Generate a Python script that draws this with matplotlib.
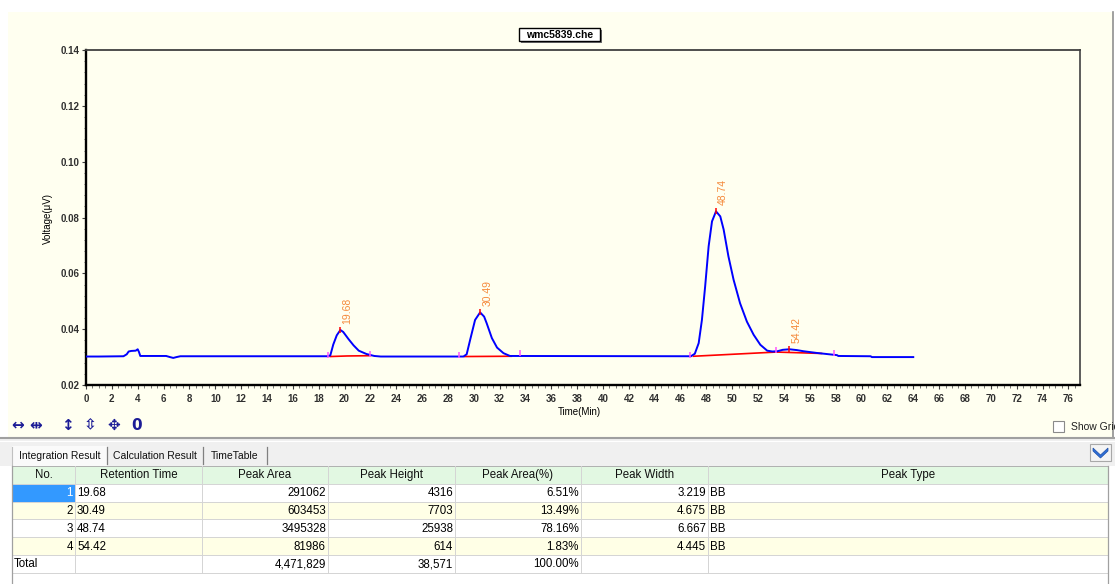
import matplotlib
matplotlib.use("Agg")
import matplotlib.pyplot as plt
from matplotlib.patches import Rectangle, Polygon
from matplotlib.ticker import MultipleLocator, FixedLocator, FixedFormatter

plt.rcParams['font.family'] = ['Liberation Sans', 'DejaVu Sans']

# ---------------- data ----------------
time_min = [0.0, 1.0, 2.9, 3.15, 3.3, 3.5, 3.85, 4.0, 4.1, 4.2, 6.2, 6.5, 6.75, 7.0, 7.3,
            18.7, 18.9, 19.13, 19.4, 19.68, 19.9, 20.3, 20.7, 21.1, 21.7, 22.3, 22.8,
            29.2, 29.45, 29.72, 30.1, 30.49, 30.8, 31.0, 31.4, 31.8, 32.3, 32.8,
            46.8, 47.1, 47.4, 47.65, 47.9, 48.17, 48.43, 48.74, 49.07, 49.33, 49.7,
            50.1, 50.6, 51.13, 51.65, 52.17, 52.7, 53.1, 53.5, 53.9, 54.42, 55.0,
            55.5, 56.5, 57.3, 58.1, 58.2, 60.7, 60.8, 64.0]
voltage = [0.0302, 0.0302, 0.0303, 0.0310, 0.0320, 0.0322, 0.0323, 0.0328, 0.0318, 0.0304,
           0.0304, 0.0300, 0.0297, 0.0300, 0.0303,
           0.0303, 0.0306, 0.0345, 0.0378, 0.0397, 0.0390, 0.0365, 0.0342, 0.0323, 0.0311,
           0.0304, 0.0302,
           0.0302, 0.0310, 0.0362, 0.0433, 0.0460, 0.0445, 0.0421, 0.0368, 0.0334, 0.0314,
           0.0304,
           0.0303, 0.0312, 0.0350, 0.0433, 0.0553, 0.0697, 0.0786, 0.0822, 0.0804, 0.0757,
           0.0661, 0.0577, 0.0493, 0.0427, 0.0380, 0.0344, 0.0323, 0.0320, 0.0321, 0.0326,
           0.0328, 0.0325, 0.0321, 0.0315, 0.0311, 0.0307, 0.0304, 0.0303, 0.0300, 0.0300]

peak_rt = [19.68, 30.49, 48.74, 54.42]
peak_apex = [0.0397, 0.0460, 0.0822, 0.0328]
peak_labels = ["19.68", "30.49", "48.74", "54.42"]

baseline_t = [[18.9, 20.2, 22.0], [29.3, 32.9], [47.0, 53.4], [53.4, 56.9]]
baseline_v = [[0.0302, 0.0304, 0.0305], [0.0302, 0.0303], [0.0303, 0.0318], [0.0318, 0.0313]]

event_t = [18.75, 21.98, 28.87, 33.54, 46.7, 53.4, 57.85]
event_v = [0.0309, 0.0312, 0.0308, 0.0314, 0.0306, 0.0324, 0.0314]

x_ticks = list(range(0, 77, 2))
y_ticks = [0.02, 0.04, 0.06, 0.08, 0.10, 0.12, 0.14]
y_tick_labels = ["0.02", "0.04", "0.06", "0.08", "0.10", "0.12", "0.14"]

# ---------------- table data ----------------
col_headers = ["No.", "Retention Time", "Peak Area", "Peak Height", "Peak Area(%)", "Peak Width", "Peak Type"]
row_no = ["1", "2", "3", "4"]
row_rt = ["19.68", "30.49", "48.74", "54.42"]
row_area = ["291062", "603453", "3495328", "81986"]
row_height = ["4316", "7703", "25938", "614"]
row_pct = ["6.51%", "13.49%", "78.16%", "1.83%"]
row_width = ["3.219", "4.675", "6.667", "4.445"]
row_type = ["BB", "BB", "BB", "BB"]
total_row = ["Total", "", "4,471,829", "38,571", "100.00%", "", ""]
tab_names = ["Integration Result", "Calculation Result", "TimeTable"]

W, H = 1115, 584
fig = plt.figure(figsize=(W / 100, H / 100), dpi=100, facecolor='white')

# ---------------- background / decorations in pixel coordinates ----------------
bg = fig.add_axes([0, 0, 1, 1], zorder=0)
bg.set_xlim(0, W)
bg.set_ylim(H, 0)
bg.axis('off')

ivory = '#FFFFF0'
bg.add_patch(Rectangle((8, 12), 1105, 425, facecolor=ivory, edgecolor='none'))
bg.plot([1113, 1113], [12, 437], color='#909090', lw=1.2)
bg.add_patch(Rectangle((0, 437), W, 29, facecolor='#F0F0F0', edgecolor='none'))
bg.plot([0, W], [437.5, 437.5], color='#A0A0A0', lw=1.5)
bg.plot([0, W], [441, 441], color='#FFFFFF', lw=0.8)

# title box
bg.add_patch(Rectangle((521, 30), 81, 13, facecolor='#707070', edgecolor='none'))
bg.add_patch(Rectangle((519, 28), 81, 13, facecolor='white', edgecolor='black', lw=1))
bg.text(559.5, 34.8, "wmc5839.che", ha='center', va='center', fontsize=7.5, fontweight='bold')

# axis labels
bg.text(48, 218, "Voltage(μV)", rotation=90, ha='center', va='center', fontsize=7)
bg.text(579, 412, "Time(Min)", ha='center', va='center', fontsize=7)

# toolbar glyphs
navy = '#1C1C96'
for gx, g in zip([18, 36, 67, 90, 114, 137], ['↔', '⇹', '↕', '⇳', '✥', '0']):
    bg.text(gx, 425, g, ha='center', va='center', fontsize=11, fontweight='bold',
            color=navy, family=['DejaVu Sans'])

# show grid checkbox (clipped at the right edge as in the original window)
bg.add_patch(Rectangle((1053, 421), 11, 11, facecolor='white', edgecolor='#8A8A8A', lw=0.8))
bg.text(1071, 426.5, "Show Grid", ha='left', va='center', fontsize=7.5, color='#202020')

# tabs
tab_x = [12, 107, 203, 267]
bg.add_patch(Rectangle((12, 446), 95, 20, facecolor='#FAFAFA', edgecolor='none'))
for i, name in enumerate(tab_names):
    bg.text((tab_x[i] + tab_x[i + 1]) / 2, 456, name, ha='center', va='center', fontsize=7.5,
            color='#101010')
    bg.plot([tab_x[i + 1], tab_x[i + 1]], [447, 464], color='#808080', lw=0.9)
bg.plot([12, 12], [447, 466], color='#C0C0C0', lw=0.8)

# dropdown button
bg.add_patch(Rectangle((1090, 444), 21, 17, facecolor='#F4F4F4', edgecolor='#A8A8A8', lw=0.8))
bg.add_patch(Polygon([[1093, 448], [1100.5, 455], [1108, 448], [1108, 451], [1100.5, 458], [1093, 451]],
                     closed=True, facecolor='#2F6FD8', edgecolor='#1E50A8', lw=0.5))

# table
tfs = 8.3
bg.add_patch(Rectangle((0, 466), W, H - 466, facecolor='white', edgecolor='none'))
col_x = [12, 75, 202, 328, 455, 581, 708, 1108]
row_top = 466
row_h = 17.8
header_color = '#E2F8E2'
alt_color = '#FFFFE6'
grid_color = '#D4D4D4'
bg.add_patch(Rectangle((col_x[0], row_top), col_x[-1] - col_x[0], row_h, facecolor=header_color,
                       edgecolor='none'))
for i, hname in enumerate(col_headers):
    bg.text((col_x[i] + col_x[i + 1]) / 2, row_top + row_h / 2 + 0.5, hname, ha='center',
            va='center', fontsize=tfs, color='#101010')
rows = [[row_no[i], row_rt[i], row_area[i], row_height[i], row_pct[i], row_width[i], row_type[i]]
        for i in range(len(row_no))] + [total_row]
for r, vals in enumerate(rows):
    y0 = row_top + row_h * (r + 1)
    if r % 2 == 1:
        bg.add_patch(Rectangle((col_x[0], y0), col_x[-1] - col_x[0], row_h, facecolor=alt_color,
                               edgecolor='none'))
    if r == 0:
        bg.add_patch(Rectangle((col_x[0], y0), col_x[1] - col_x[0], row_h, facecolor='#3399FF',
                               edgecolor='none'))
    for c, v in enumerate(vals):
        if v == "":
            continue
        if (r == len(rows) - 1 and c == 0) or c in (1, 6):
            bg.text(col_x[c] + 2, y0 + row_h / 2 + 0.5, v, ha='left', va='center', fontsize=tfs)
        else:
            color = 'white' if (r == 0 and c == 0) else 'black'
            bg.text(col_x[c + 1] - 2, y0 + row_h / 2 + 0.5, v, ha='right', va='center',
                    fontsize=tfs, color=color)
n_rows = len(rows) + 1
for r in range(n_rows + 1):
    yy = row_top + row_h * r
    bg.plot([col_x[0], col_x[-1]], [yy, yy], color=grid_color if r > 0 else '#B0B0B0', lw=0.7)
for c, xx in enumerate(col_x):
    bg.plot([xx, xx], [row_top, row_top + row_h * n_rows], color=grid_color, lw=0.7)
bg.plot([col_x[0], col_x[0]], [row_top, H], color='#A0A0A0', lw=0.9)
bg.plot([col_x[-1], col_x[-1]], [row_top, H], color='#A0A0A0', lw=0.9)

# ---------------- chromatogram axes ----------------
ax = fig.add_axes([86 / W, 1 - 385 / H, 994 / W, 335 / H], zorder=1)
ax.patch.set_alpha(0)
ax.set_xlim(0, 76.9)
ax.set_ylim(0.02, 0.14)

ax.plot(time_min, voltage, color='#0000FF', lw=1.4, zorder=3)
for bt, bv in zip(baseline_t, baseline_v):
    ax.plot(bt, bv, color='#FF0000', lw=1.2, zorder=2)
ax.plot(event_t, event_v, linestyle='none', marker='|', markersize=4, mew=1.1,
        color='#FF55FF', zorder=4)
ax.plot(peak_rt, peak_apex, linestyle='none', marker='|', markersize=4, mew=1.1,
        color='#FF0000', zorder=4)
for rt, ap, lab in zip(peak_rt, peak_apex, peak_labels):
    ax.annotate(lab, (rt, ap), xytext=(5.2, 4.5), textcoords='offset points', rotation=90,
                ha='center', va='bottom', fontsize=7.5, color='#F58A3C')

ax.xaxis.set_major_locator(FixedLocator(x_ticks))
ax.xaxis.set_major_formatter(FixedFormatter([str(v) for v in x_ticks]))
ax.xaxis.set_minor_locator(MultipleLocator(0.5))
ax.yaxis.set_major_locator(FixedLocator(y_ticks))
ax.yaxis.set_major_formatter(FixedFormatter(y_tick_labels))
ax.yaxis.set_minor_locator(MultipleLocator(0.004))

ax.tick_params(axis='x', which='major', direction='out', length=3, width=0.8, color='#404040',
               pad=3.5, labelsize=7, labelcolor='#303030')
ax.tick_params(axis='x', which='minor', direction='out', length=1.8, width=0.6, color='#606060')
ax.tick_params(axis='y', which='major', direction='out', length=3, width=0.8, color='#404040',
               pad=1.5, labelsize=7, labelcolor='#303030')
ax.tick_params(axis='y', which='minor', direction='out', length=1.8, width=0.6, color='#606060')
for lab in ax.get_xticklabels() + ax.get_yticklabels():
    lab.set_fontweight('bold')

ax.spines['left'].set_linewidth(1.7)
ax.spines['bottom'].set_linewidth(1.7)
ax.spines['left'].set_color('black')
ax.spines['bottom'].set_color('black')
ax.spines['top'].set_linewidth(1.3)
ax.spines['right'].set_linewidth(1.3)
ax.spines['top'].set_color('#404040')
ax.spines['right'].set_color('#505050')

fig.savefig("out.png", dpi=100, facecolor='white')
